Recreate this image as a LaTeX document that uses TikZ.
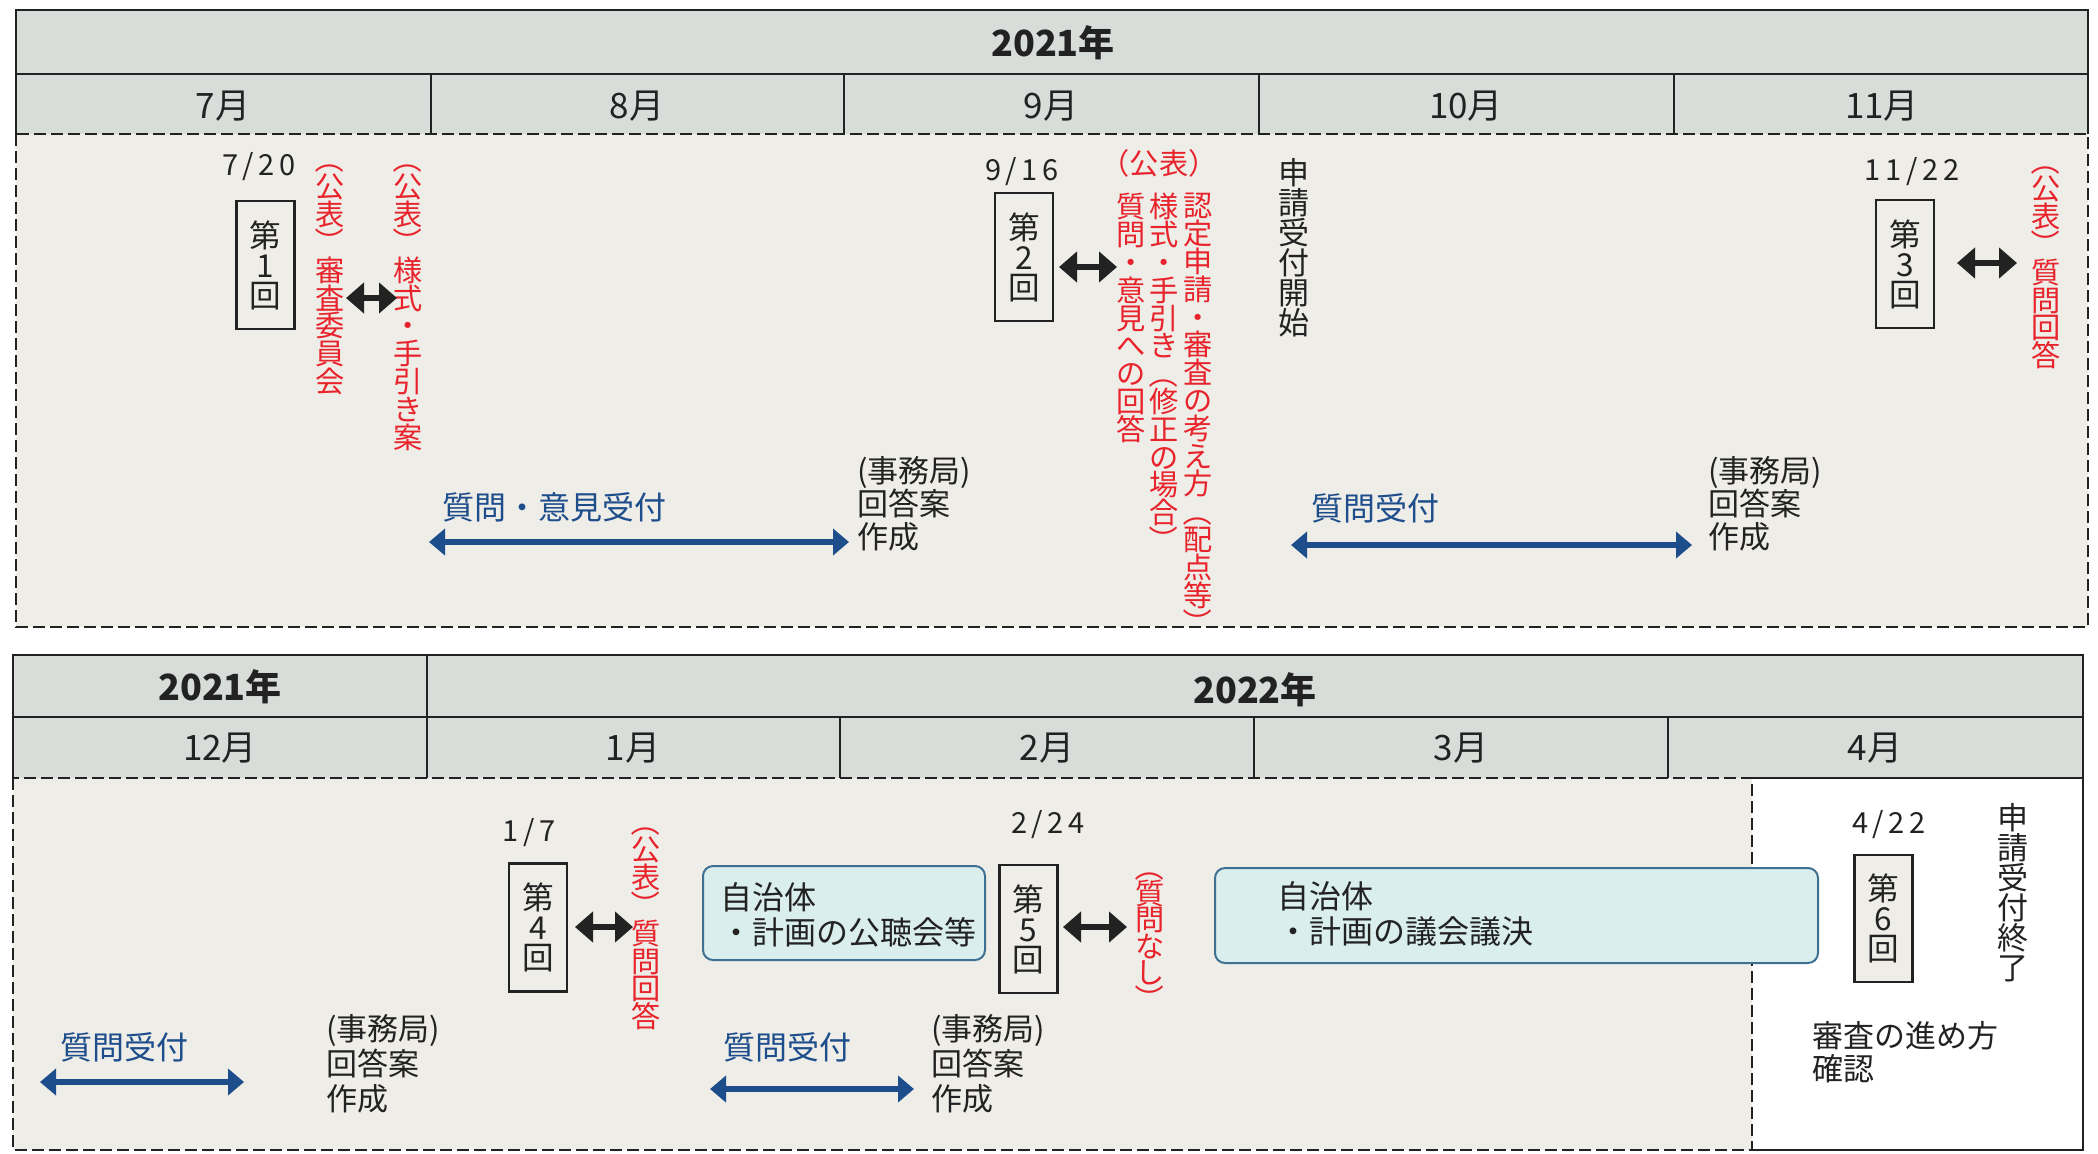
\documentclass[tikz,border=0pt]{standalone}
\usepackage{fontspec}
\usepackage{graphicx}
\setmainfont{Noto Sans CJK JP}
\newfontfamily\datefont[LetterSpace=16]{Noto Sans CJK JP}
\usetikzlibrary{arrows.meta}
\definecolor{hdrc}{HTML}{D8DDDA}
\definecolor{bodyc}{HTML}{EEEDE8}
\definecolor{redc}{HTML}{E8232B}
\definecolor{bluec}{HTML}{1E4D8C}
\definecolor{txt}{HTML}{222222}
\definecolor{munif}{HTML}{DAEEEE}
\definecolor{munib}{HTML}{3E7191}
\newcommand{\vlp}{\rotatebox[origin=c]{-90}{（}}
\newcommand{\vrp}{\rotatebox[origin=c]{-90}{）}}
\AtBeginDocument{\lineskiplimit=-20pt\relax}
\begin{document}
\begin{tikzpicture}[x=0.5pt,y=-0.5pt,
  hline/.style={draw=txt,line width=1.4pt},
  bodyline/.style={draw=txt,line width=1.4pt,dash pattern=on 6pt off 2.5pt},
  hdr/.style={text=txt,font=\fontsize{17.5}{17.5}\selectfont,inner sep=0pt},
  yr/.style={text=txt,font=\fontsize{18}{18}\selectfont\bfseries,inner sep=0pt},
  vred/.style={text=redc,align=center,inner sep=0pt,anchor=north,font=\fontsize{14.6}{13.9}\selectfont},
  vblk/.style={text=txt,align=center,inner sep=0pt,anchor=north,font=\fontsize{15.5}{15}\selectfont},
  meet/.style={draw=txt,line width=1.2pt,fill=bodyc,minimum width=29pt,minimum height=64pt,align=center,inner sep=0pt,text=txt,font=\fontsize{15.8}{15}\selectfont},
  datelab/.style={text=txt,font=\datefont\fontsize{14.5}{14.5}\selectfont,inner sep=0pt},
  dbl/.style={line width=2.8pt,draw=txt,{Triangle[width=15pt,length=9pt]}-{Triangle[width=15pt,length=9pt]}},
  barrow/.style={line width=3pt,draw=bluec,{Triangle[width=13pt,length=8pt]}-{Triangle[width=13pt,length=8pt]}},
  blab/.style={text=bluec,font=\fontsize{16}{16}\selectfont,anchor=west,inner sep=0pt},
  office/.style={text=txt,align=left,anchor=north west,inner sep=0pt,font=\fontsize{15.5}{16.5}\selectfont},
  officeb/.style={office,font=\fontsize{15.5}{17.5}\selectfont},
  muni/.style={draw=munib,fill=munif,rounded corners=5pt,line width=1pt,inner sep=0pt},
  mtext/.style={text=txt,align=left,anchor=north west,inner sep=0pt,font=\fontsize{16}{17.5}\selectfont},
  vredb/.style={vred,font=\fontsize{14.6}{13.2}\selectfont}
]
\useasboundingbox[fill=white] (0,0) rectangle (2098,1153);

% ===== top table =====
\fill[hdrc] (16,10) rectangle (2088,134);
\draw[bodyline,fill=bodyc] (16,134) rectangle (2088,627);
\draw[hline] (16,134) -- (16,10) -- (2088,10) -- (2088,134);
\draw[hline] (16,74) -- (2088,74);
\foreach \xx in {431,844,1259,1674} \draw[hline] (\xx,74) -- (\xx,134);
\node[yr] (y2021a) at (1053,43) {2021年};
\node[hdr] (m7) at (223,106) {7月};
\node[hdr] (m8) at (637,106) {8月};
\node[hdr] (m9) at (1051,106) {9月};
\node[hdr] (m10) at (1466,106) {10月};
\node[hdr] (m11) at (1882,106) {11月};

% 7/20
\node[datelab] (d720) at (259,167) {7/20};
\node[meet] (b1) at (265.5,265) {第\\1\\回};
\node[vred] (t1) at (330,144) {\vlp\\公\\表\\\vrp\\審\\査\\委\\員\\会};
\node[vred] (t2) at (408,144) {\vlp\\公\\表\\\vrp\\様\\式\\・\\手\\引\\き\\案};
\coordinate (a1a) at (346,298); \coordinate (a1b) at (397,298);
\draw[dbl] (a1a) -- (a1b);

% 9/16
\node[datelab] (d916) at (1022,172) {9/16};
\node[meet] (b2) at (1024,257) {第\\2\\回};
\coordinate (a2a) at (1059,267); \coordinate (a2b) at (1117,267);
\draw[dbl] (a2a) -- (a2b);
\node[text=redc,font=\fontsize{14.6}{14}\selectfont,inner sep=0pt] (pub9) at (1159,163) {（公表）};
\node[vred] (t9a) at (1198,193) {認\\定\\申\\請\\・\\審\\査\\の\\考\\え\\方\\\vlp\\配\\点\\等\\\vrp};
\node[vred] (t9b) at (1164,193) {様\\式\\・\\手\\引\\き\\\vlp\\修\\正\\の\\場\\合\\\vrp};
\node[vred] (t9c) at (1131,193) {質\\問\\・\\意\\見\\へ\\の\\回\\答};
\node[vblk] (start) at (1294,158) {申\\請\\受\\付\\開\\始};

% 11/22
\node[datelab] (d1122) at (1912,172) {11/22};
\node[meet] (b3) at (1905,264) {第\\3\\回};
\coordinate (a3a) at (1957,263); \coordinate (a3b) at (2017,263);
\draw[dbl] (a3a) -- (a3b);
\node[vred] (t11) at (2046,146) {\vlp\\公\\表\\\vrp\\質\\問\\回\\答};

% blue arrows top
\coordinate (u1a) at (429,542); \coordinate (u1b) at (849,542);
\draw[barrow] (u1a) -- (u1b);
\node[blab] (u1l) at (442,507) {質問・意見受付};
\node[office] (o1) at (857,456) {(事務局)\\回答案\\作成};
\coordinate (u2a) at (1291,545); \coordinate (u2b) at (1692,545);
\draw[barrow] (u2a) -- (u2b);
\node[blab] (u2l) at (1311,508) {質問受付};
\node[office] (o2) at (1708,456) {(事務局)\\回答案\\作成};

% ===== lower table =====
\fill[hdrc] (13,655) rectangle (2083,778);
\fill[white] (1752,778) rectangle (2083,1150);
\draw[bodyline,fill=bodyc] (13,778) rectangle (1752,1150);
\draw[hline] (1752,778) -- (2083,778) -- (2083,1150) -- (1752,1150);
\draw[hline] (13,778) -- (13,655) -- (2083,655) -- (2083,778);
\draw[hline] (13,717) -- (2083,717);
\draw[hline] (427,655) -- (427,778);
\foreach \xx in {840,1254,1668} \draw[hline] (\xx,717) -- (\xx,778);
\node[yr] (y2021b) at (220,687) {2021年};
\node[yr] (y2022) at (1255,690) {2022年};
\node[hdr] (m12) at (220,748) {12月};
\node[hdr] (m1) at (633,748) {1月};
\node[hdr] (m2) at (1047,748) {2月};
\node[hdr] (m3) at (1461,748) {3月};
\node[hdr] (m4) at (1875,748) {4月};

% 1/7
\node[datelab] (d17) at (529,833) {1/7};
\node[meet] (b4) at (538,927.5) {第\\4\\回};
\coordinate (a4a) at (575,927); \coordinate (a4b) at (633,927);
\draw[dbl] (a4a) -- (a4b);
\node[vred] (t17) at (646,807) {\vlp\\公\\表\\\vrp\\質\\問\\回\\答};
\node[muni,minimum width=141pt,minimum height=47pt,anchor=north west] (mu1) at (702,865) {};
\node[mtext] (mu1t) at (720,882) {自治体\\・計画の公聴会等};

% 2/24
\node[datelab] (d224) at (1048,825) {2/24};
\node[meet] (b5) at (1028.5,929) {第\\5\\回};
\coordinate (a5a) at (1063,927); \coordinate (a5b) at (1127,927);
\draw[dbl] (a5a) -- (a5b);
\node[vredb] (t224) at (1150,852) {\vlp\\質\\問\\な\\し\\\vrp};
\node[muni,minimum width=301.5pt,minimum height=47.5pt,anchor=north west] (mu2) at (1214,867) {};
\node[mtext] (mu2t) at (1277,881) {自治体\\・計画の議会議決};

% 4/22
\node[datelab] (d422) at (1889,825) {4/22};
\node[meet,minimum height=63.5pt] (b6) at (1883.5,918.5) {第\\6\\回};
\node[vblk] (endr) at (2013,803) {申\\請\\受\\付\\終\\了};
\node[office] (conf) at (1812,1021) {審査の進め方\\確認};

% blue arrows lower
\coordinate (l1a) at (40,1082); \coordinate (l1b) at (244,1082);
\draw[barrow] (l1a) -- (l1b);
\node[blab] (l1l) at (60,1047) {質問受付};
\node[officeb] (o3) at (326,1014) {(事務局)\\回答案\\作成};
\coordinate (l2a) at (710,1089); \coordinate (l2b) at (914,1089);
\draw[barrow] (l2a) -- (l2b);
\node[blab] (l2l) at (723,1047) {質問受付};
\node[officeb] (o4) at (931,1014) {(事務局)\\回答案\\作成};
\end{tikzpicture}
\end{document}
